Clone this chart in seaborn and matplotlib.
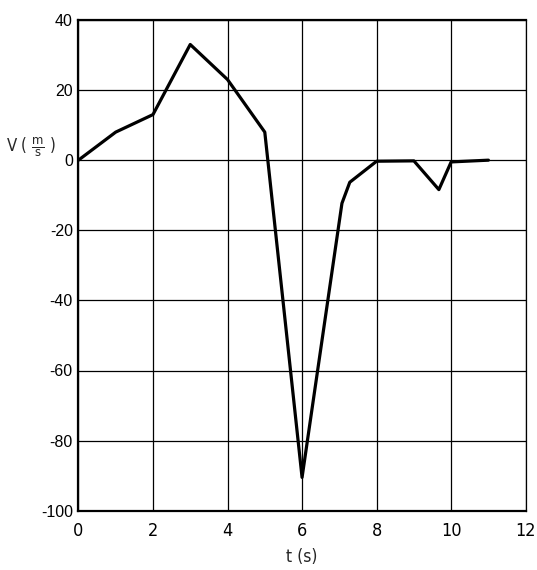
import matplotlib
matplotlib.use("Agg")
import matplotlib.pyplot as plt
import seaborn as sns
import pandas as pd

# velocity profile samples
t_s = [0, 1, 2, 3, 4, 5, 6, 7.07, 7.28, 8, 9, 9.67, 10, 11]
v_ms = [0, 8, 13, 33, 23, 8, -90.5, -12.3, -6.3, -0.3, -0.2, -8.4, -0.5, 0]

x_ticks = [0, 2, 4, 6, 8, 10, 12]
y_ticks = [-100, -80, -60, -40, -20, 0, 20, 40]

sns.set_theme(style="white")
plt.rcParams["font.family"] = ["Liberation Sans", "DejaVu Sans"]
narrow = dict(family=["DejaVu Sans"], stretch="condensed")

df = pd.DataFrame({"t": t_s, "v": v_ms})

fig = plt.figure(figsize=(5.37, 5.70), dpi=100)
ax = fig.add_axes([0.146, 0.104, 0.833, 0.861])

sns.lineplot(data=df, x="t", y="v", ax=ax, color="black", linewidth=2.3,
             sort=False, zorder=3)

ax.set_xlim(0, 12)
ax.set_ylim(-100, 40)
ax.set_xticks(x_ticks)
ax.set_yticks(y_ticks)
ax.set_xticklabels([str(v) for v in x_ticks], fontsize=13, **narrow)
ax.set_yticklabels([str(v) for v in y_ticks], fontsize=11.5)
ax.tick_params(length=0, pad=4, colors="black")
ax.tick_params(axis="x", pad=8)

ax.grid(True, color="black", linewidth=0.9)
for side in ["left", "bottom", "top"]:
    ax.spines[side].set_linewidth(1.6)
    ax.spines[side].set_color("black")
ax.spines["right"].set_linewidth(0.9)
ax.spines["right"].set_color("black")

ax.set_xlabel("t (s)", fontsize=12.5, labelpad=6, **narrow)
ax.set_ylabel("")
fig.text(0.058, 0.742, r"V ( $\frac{\mathrm{m}}{\mathrm{s}}$ )",
         fontsize=12, ha="center", va="center", **narrow)

fig.savefig("out.png", dpi=100)
